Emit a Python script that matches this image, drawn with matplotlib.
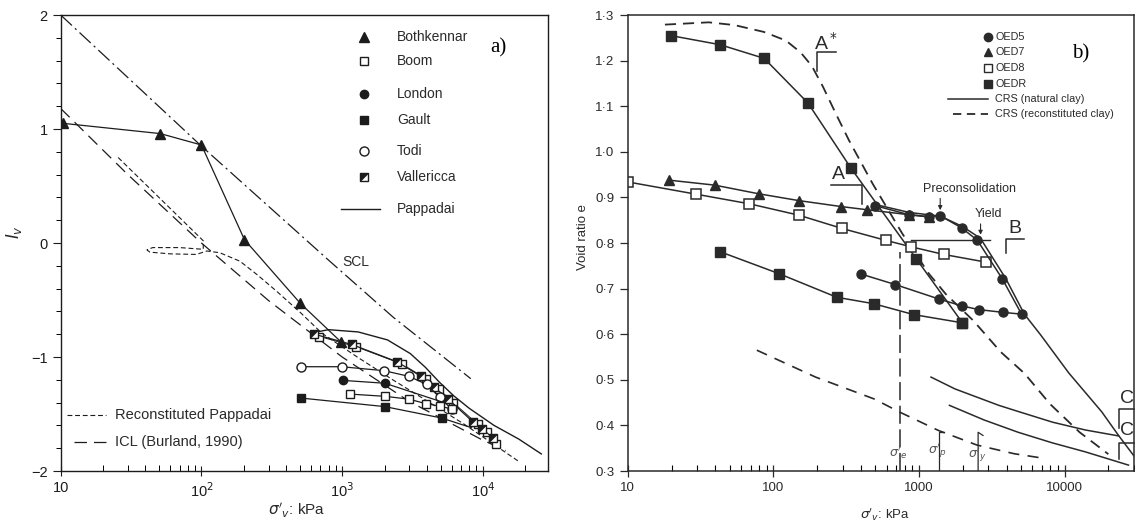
import matplotlib
matplotlib.use('Agg')
import matplotlib.pyplot as plt
from matplotlib.path import Path

plt.rcParams['font.family'] = ['Liberation Sans', 'DejaVu Sans']
plt.rcParams['lines.scale_dashes'] = False
plt.rcParams['axes.unicode_minus'] = True

# ---------------- panel a) : I_v against sigma'_v ----------------
both_x = [10.4, 51, 100, 202, 505, 986]
both_y = [1.05, 0.96, 0.86, 0.03, -0.53, -0.87]
vall_x = [635, 1170, 2440, 3640, 4470, 5690, 8500, 9880, 11800]
vall_y = [-0.80, -0.89, -1.04, -1.17, -1.26, -1.37, -1.57, -1.63, -1.71]
boom2_x = [690, 1260, 2640, 3950, 4850, 6150, 9200, 10700, 12300]
boom2_y = [-0.82, -0.91, -1.06, -1.19, -1.28, -1.40, -1.59, -1.655, -1.76]
boom_x = [1135, 2030, 3000, 3950, 4950, 6050]
boom_y = [-1.325, -1.345, -1.37, -1.41, -1.43, -1.458]
todi_x = [507, 990, 1990, 2990, 3980, 4960, 5990]
todi_y = [-1.085, -1.085, -1.12, -1.17, -1.24, -1.355, -1.458]
lond_x = [1010, 2010, 5300]
lond_y = [-1.205, -1.23, -1.40]
gault_x = [510, 2010, 5080, 8300]
gault_y = [-1.36, -1.435, -1.535, -1.62]
papp_x = [600, 800, 1300, 2100, 3050, 3900, 4900, 6200, 8000, 12000, 18000, 26000]
papp_y = [-0.79, -0.76, -0.78, -0.85, -0.97, -1.09, -1.22, -1.34, -1.45, -1.60, -1.72, -1.85]
rec_x = [25.6, 103, 103, 70, 45, 41, 43, 60, 92, 109, 135, 188, 250, 340, 505, 716,
         1280, 2290, 4070, 7380, 17700]
rec_y = [0.75, 0.02, -0.055, -0.04, -0.04, -0.06, -0.08, -0.095, -0.10, -0.07, -0.085,
         -0.16, -0.28, -0.42, -0.61, -0.79, -1.0, -1.2, -1.39, -1.59, -1.91]
icl_x = [10, 30, 100, 300, 1000, 3000, 10000, 14500]
icl_y = [1.18, 0.60, 0.0, -0.505, -1.0, -1.39, -1.73, -1.82]
scl_x = [10, 100, 800, 2300, 8200]
scl_y = [2.0, 0.85, -0.15, -0.65, -1.19]
legend_a = ['Bothkennar', 'Boom', 'London', 'Gault', 'Todi', 'Vallericca', 'Pappadai']

# ---------------- panel b) : void ratio against sigma'_v ----------------
oedr1_x = [19.7, 43, 86.5, 173, 340, 961, 1990]
oedr1_y = [1.255, 1.235, 1.205, 1.107, 0.965, 0.765, 0.625]
oedr2_x = [43, 109, 273, 488, 922, 1990]
oedr2_y = [0.781, 0.733, 0.681, 0.667, 0.643, 0.625]
oed5_x = [500, 857, 1175, 1400, 1968, 2520, 3730, 5070, 3776, 2575, 1982, 1378, 687, 400]
oed5_y = [0.882, 0.862, 0.858, 0.860, 0.833, 0.806, 0.722, 0.644, 0.648, 0.654, 0.662,
          0.677, 0.709, 0.732]
oed7_x = [19.1, 39.5, 79.3, 150, 292, 440, 860, 1180]
oed7_y = [0.938, 0.927, 0.908, 0.893, 0.880, 0.873, 0.862, 0.857]
oed8_x = [10, 29.6, 68.5, 150, 296, 590, 876, 1478, 2900]
oed8_y = [0.934, 0.907, 0.886, 0.861, 0.832, 0.806, 0.792, 0.775, 0.758]
crsn_x = [480, 860, 1400, 2000, 2650, 3950, 5300, 6800, 10700, 18000, 23500, 30000]
crsn_y = [0.886, 0.867, 0.859, 0.836, 0.810, 0.722, 0.644, 0.60, 0.515, 0.43, 0.378, 0.333]
un1_x = [1210, 1770, 3540, 4870, 8300, 13900, 23500]
un1_y = [0.506, 0.48, 0.444, 0.43, 0.407, 0.39, 0.377]
un2_x = [1620, 2800, 4800, 8200, 13900, 27500]
un2_y = [0.444, 0.412, 0.385, 0.362, 0.342, 0.313]
crsr_x = [18, 36, 54, 86, 122, 154, 184, 219, 276, 331, 481, 771, 1175, 1530, 2360, 3650,
          5310, 7950, 12700, 20000]
crsr_y = [1.279, 1.284, 1.278, 1.263, 1.244, 1.218, 1.188, 1.143, 1.076, 1.025, 0.93, 0.82,
          0.732, 0.688, 0.63, 0.561, 0.514, 0.447, 0.385, 0.337]
crsr2_x = [77, 195, 493, 740, 1360, 2500, 4500, 7500]
crsr2_y = [0.565, 0.506, 0.458, 0.429, 0.389, 0.357, 0.338, 0.327]
sig_e, sig_p, sig_y = 740, 1380, 2550
legend_b = ['OED5', 'OED7', 'OED8', 'OEDR', 'CRS (natural clay)', 'CRS (reconstituted clay)']

INK = '#1c1c1c'
INK_B = '#2a2a2a'
TXT = '#2a2a2a'

# marker: square with upper-left half filled (Vallericca)
half_tri = Path([(-1, 1), (1, 1), (-1, -1), (-1, 1)],
                [Path.MOVETO, Path.LINETO, Path.LINETO, Path.CLOSEPOLY])

fig = plt.figure(figsize=(11.35, 5.24), dpi=100)
ax1 = fig.add_axes([0.0535, 0.1011, 0.4293, 0.8702])
ax2 = fig.add_axes([0.5531, 0.1011, 0.4460, 0.8702])

# ---------- panel a ----------
lw = 0.9
ax1.plot(scl_x, scl_y, color=INK, lw=lw, dashes=(11, 3, 1.5, 3))
ax1.plot(icl_x, icl_y, color=INK, lw=lw, dashes=(9, 5))
ax1.plot(rec_x, rec_y, color=INK, lw=0.8, dashes=(3.5, 2))
ax1.plot(papp_x, papp_y, color=INK, lw=1.0)
ax1.plot(both_x, both_y, color=INK, lw=lw, marker='^', ms=7, mfc=INK, mec=INK)
ax1.plot(boom2_x, boom2_y, color=INK, lw=0.7, marker='s', ms=6, mfc='white', mec=INK)
ax1.plot(vall_x, vall_y, color=INK, lw=lw, marker='s', ms=6, mfc='white', mec=INK)
ax1.plot(vall_x, vall_y, ls='none', marker=half_tri, ms=6, mfc=INK, mec=INK, mew=0.5)
ax1.plot(todi_x, todi_y, color=INK, lw=lw, marker='o', ms=6.5, mfc='white', mec=INK)
ax1.plot(lond_x, lond_y, color=INK, lw=lw, marker='o', ms=6, mfc=INK, mec=INK,
         markevery=[0, 1])
ax1.plot(boom_x, boom_y, color=INK, lw=lw, marker='s', ms=5.5, mfc='white', mec=INK)
ax1.plot(gault_x, gault_y, color=INK, lw=lw, marker='s', ms=5.5, mfc=INK, mec=INK,
         markevery=[0, 1, 2])

ax1.set_xscale('log')
ax1.set_xlim(10, 2.9e4)
ax1.set_ylim(-2, 2)
ax1.set_xticks([10, 100, 1000, 10000])
ax1.set_xticklabels(['10', '10$^2$', '10$^3$', '10$^4$'])
ax1.set_yticks([-2, -1, 0, 1, 2])
ax1.set_yticks([v / 10 for v in range(-20, 21, 2)], minor=True)
ax1.tick_params(axis='y', which='major', direction='out', length=6, width=0.8,
                labelsize=10.5, colors=INK)
ax1.tick_params(axis='y', which='minor', direction='out', length=3.5, width=0.7)
ax1.tick_params(axis='x', which='major', direction='inout', length=7, width=0.8,
                labelsize=10.5, colors=INK, pad=4)
ax1.tick_params(axis='x', which='minor', direction='in', length=4, width=0.7)
ax1.tick_params(axis='x', which='minor', labelbottom=False)
for s in ax1.spines.values():
    s.set_linewidth(1.0)
    s.set_color(INK)

# legend a (drawn by hand, markers on the left column)
rows_a = [0.951, 0.899, 0.827, 0.770, 0.702, 0.645, 0.574]
mk_a = [('^', INK, 7), ('s', 'white', 5.5), ('o', INK, 6), ('s', INK, 5.5),
        ('o', 'white', 6.5), ('s', 'white', 6)]
for i, lab in enumerate(legend_a):
    yy = rows_a[i]
    if i < 6:
        m, fc, ms = mk_a[i]
        ax1.plot([0.623], [yy], transform=ax1.transAxes, ls='none', marker=m, ms=ms,
                 mfc=fc, mec=INK, clip_on=False)
        if lab == 'Vallericca':
            ax1.plot([0.623], [yy], transform=ax1.transAxes, ls='none', marker=half_tri,
                     ms=6, mfc=INK, mec=INK, mew=0.5, clip_on=False)
    else:
        ax1.plot([0.575, 0.655], [yy, yy], transform=ax1.transAxes, color=INK, lw=1.0)
    ax1.text(0.690, yy, lab, transform=ax1.transAxes, fontsize=10, color=TXT,
             va='center', ha='left')

ax1.plot([0.013, 0.093], [0.123, 0.123], transform=ax1.transAxes, color=INK, lw=0.8,
         dashes=(3.5, 2))
ax1.text(0.112, 0.123, 'Reconstituted Pappadai', transform=ax1.transAxes, fontsize=10.5,
         color=TXT, va='center')
ax1.plot([0.028, 0.097], [0.064, 0.064], transform=ax1.transAxes, color=INK, lw=lw,
         dashes=(9, 5))
ax1.text(0.112, 0.064, 'ICL (Burland, 1990)', transform=ax1.transAxes, fontsize=10.5,
         color=TXT, va='center')
ax1.text(1250, -0.17, 'SCL', fontsize=10, color=TXT, ha='center', va='center')

# ---------- panel b ----------
lwb = 1.1
ax2.plot(crsr_x, crsr_y, color=INK_B, lw=1.3, dashes=(8, 5))
ax2.plot(crsr2_x, crsr2_y, color=INK_B, lw=1.2, dashes=(8, 6))
ax2.plot(crsn_x, crsn_y, color=INK_B, lw=lwb)
ax2.plot(un1_x, un1_y, color=INK_B, lw=lwb)
ax2.plot(un2_x, un2_y, color=INK_B, lw=lwb)
ax2.plot(oedr1_x, oedr1_y, color=INK_B, lw=lwb, marker='s', ms=7, mfc=INK_B, mec=INK_B)
ax2.plot(oedr2_x, oedr2_y, color=INK_B, lw=lwb, marker='s', ms=7, mfc=INK_B, mec=INK_B)
ax2.plot(oed8_x, oed8_y, color=INK_B, lw=lwb, marker='s', ms=6.5, mfc='white', mec=INK_B,
         mew=1.1)
ax2.plot(oed7_x, oed7_y, color=INK_B, lw=lwb, marker='^', ms=7.5, mfc=INK_B, mec=INK_B)
ax2.plot(oed5_x, oed5_y, color=INK_B, lw=lwb, marker='o', ms=6.5, mfc=INK_B, mec=INK_B)

# characteristic stresses
ax2.plot([sig_e, sig_e], [0.30, 0.78], color=INK_B, lw=1.1, dashes=(13, 4))
ax2.plot([sig_p, sig_p, sig_p * 1.08], [0.30, 0.385, 0.385], color=INK_B, lw=0.9)
ax2.plot([sig_y, sig_y, sig_y * 1.08], [0.30, 0.385, 0.378], color=INK_B, lw=0.9)
ax2.text(sig_e * 0.97, 0.34, r"$\sigma'_e$", fontsize=9, color='#555555', ha='center',
         va='center')
ax2.text(sig_p * 0.97, 0.345, r"$\sigma'_p$", fontsize=9, color='#555555', ha='center',
         va='center')
ax2.text(sig_y * 0.99, 0.335, r"$\sigma'_y$", fontsize=9, color='#555555', ha='center',
         va='center')

# construction brackets
ax2.plot([200, 200, 268], [1.177, 1.218, 1.218], color=INK_B, lw=1.1)
ax2.text(232, 1.240, 'A$^*$', fontsize=14, color=TXT, ha='center', va='center')
ax2.plot([248, 405, 405], [0.927, 0.927, 0.886], color=INK_B, lw=1.1)
ax2.text(279, 0.950, 'A', fontsize=14, color=TXT, ha='center', va='center')
ax2.plot([880, 3100], [0.807, 0.807], color=INK_B, lw=1.0)
ax2.plot([3980, 3980, 5310], [0.778, 0.809, 0.809], color=INK_B, lw=1.1)
ax2.text(4590, 0.832, 'B', fontsize=14, color=TXT, ha='center', va='center')
ax2.plot([23500, 23500, 30000], [0.395, 0.4356, 0.4356], color=INK_B, lw=1.1, clip_on=False)
ax2.plot([23500, 23500, 30000], [0.326, 0.362, 0.362], color=INK_B, lw=1.1, clip_on=False)
ax2.text(26800, 0.458, 'C', fontsize=14, color=TXT, ha='center', va='center')
ax2.text(26800, 0.388, 'C', fontsize=14, color=TXT, ha='center', va='center')

ax2.annotate('', xy=(1400, 0.866), xytext=(1400, 0.904),
             arrowprops=dict(arrowstyle='-|>', color=INK_B, lw=0.8, mutation_scale=6))
ax2.text(2230, 0.919, 'Preconsolidation', fontsize=9, color=TXT, ha='center', va='center')
ax2.annotate('', xy=(2650, 0.812), xytext=(2650, 0.848),
             arrowprops=dict(arrowstyle='-|>', color=INK_B, lw=0.8, mutation_scale=6))
ax2.text(2980, 0.864, 'Yield', fontsize=9, color=TXT, ha='center', va='center')

ax2.set_xscale('log')
ax2.set_xlim(10, 3e4)
ax2.set_ylim(0.3, 1.3)
ax2.set_xticks([10, 100, 1000, 10000])
ax2.set_xticklabels(['10', '100', '1000', '10000'])
ytk = [round(0.3 + 0.1 * i, 1) for i in range(11)]
ax2.set_yticks(ytk)
ax2.set_yticklabels([('%.1f' % v).replace('.', '\u00b7') for v in ytk])
ax2.tick_params(axis='y', which='major', direction='out', length=6, width=0.9,
                labelsize=9.5, colors=INK_B)
ax2.tick_params(axis='x', which='major', direction='inout', length=8, width=0.9,
                labelsize=9.5, colors=INK_B, pad=4)
ax2.tick_params(axis='x', which='minor', direction='in', length=4, width=0.8,
                labelbottom=False)
for s in ax2.spines.values():
    s.set_linewidth(1.1)
    s.set_color(INK_B)

# legend b
rows_b = [0.952, 0.919, 0.884, 0.848, 0.815, 0.783]
mk_b = [('o', INK_B), ('^', INK_B), ('s', 'white'), ('s', INK_B)]
for i, lab in enumerate(legend_b):
    yy = rows_b[i]
    if i < 4:
        m, fc = mk_b[i]
        ax2.plot([0.712], [yy], transform=ax2.transAxes, ls='none', marker=m, ms=6,
                 mfc=fc, mec=INK_B, clip_on=False)
    elif i == 4:
        ax2.plot([0.633, 0.712], [yy, yy], transform=ax2.transAxes, color=INK_B, lw=1.1)
    else:
        ax2.plot([0.643, 0.712], [yy, yy], transform=ax2.transAxes, color=INK_B, lw=1.3,
                 dashes=(6, 4))
    ax2.text(0.726, yy, lab, transform=ax2.transAxes, fontsize=7.8, color=TXT,
             va='center', ha='left')

# axis titles and panel letters
fig.text(0.2617, 0.027, r"$\sigma'_v$: kPa", fontsize=11, color=TXT, ha='center',
         va='center')
fig.text(0.7793, 0.018, r"$\sigma'_v$: kPa", fontsize=9.5, color=TXT, ha='center',
         va='center')
fig.text(0.0123, 0.557, r"$I_v$", fontsize=12, color=TXT, ha='center', va='center',
         rotation=90)
fig.text(0.5134, 0.548, 'Void ratio e', fontsize=9.5, color=TXT, ha='center', va='center',
         rotation=90)
fig.text(0.4388, 0.908, 'a)', fontsize=15, family='Liberation Serif', color='black',
         ha='center', va='center')
fig.text(0.9520, 0.898, 'b)', fontsize=15, family='Liberation Serif', color='black',
         ha='center', va='center')

fig.savefig('out.png', dpi=100)
